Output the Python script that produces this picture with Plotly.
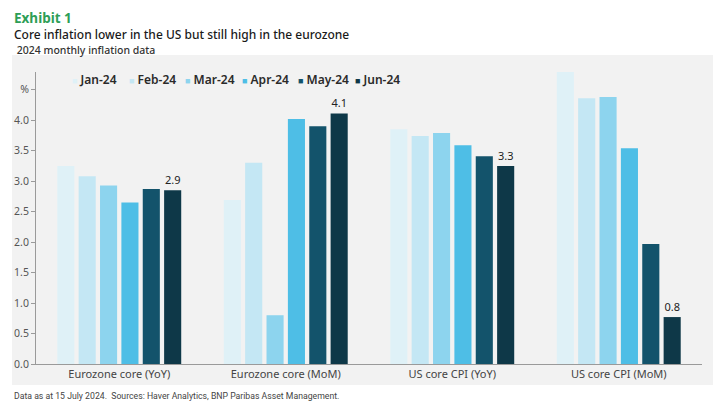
import plotly.graph_objects as go

categories = ['Eurozone core (YoY)', 'Eurozone core (MoM)', 'US core CPI (YoY)', 'US core CPI (MoM)']
months = ['Jan-24', 'Feb-24', 'Mar-24', 'Apr-24', 'May-24', 'Jun-24']

jan = [3.25, 2.69, 3.85, 4.79]
feb = [3.08, 3.30, 3.74, 4.36]
mar = [2.93, 0.80, 3.79, 4.38]
apr = [2.65, 4.02, 3.59, 3.54]
may = [2.87, 3.90, 3.41, 1.97]
jun = [2.85, 4.11, 3.25, 0.77]

jun_labels = ['2.9', '4.1', '3.3', '0.8']

colors = ['#dff1f7', '#c4e7f4', '#8dd4ee', '#4ebee6', '#13536b', '#0e3848']

font_main = 'Noto Sans'

fig = go.Figure()

series = [jan, feb, mar, apr, may, jun]
for i, (m, vals) in enumerate(zip(months, series)):
    is_last = i == len(months) - 1
    fig.add_trace(go.Bar(
        x=categories, y=vals, name=m,
        marker=dict(color=colors[i], line=dict(width=0)),
        text=jun_labels if is_last else None,
        textposition='outside' if is_last else None,
        textfont=dict(size=11, color='#222222', family=font_main),
        cliponaxis=False,
        hoverinfo='x+y+name',
        showlegend=False,
    ))

# legend drawn as a row of labels: small swatch right against the text
for i, m in enumerate(months):
    fig.add_annotation(
        text=f'<span style="color:{colors[i]};font-size:9px">■</span> {m}',
        xref='paper', yref='paper', x=0.051 + i * 0.085, y=0.976,
        xanchor='left', yanchor='middle', showarrow=False,
        font=dict(family=font_main, size=12, color='#2a2a2a', weight=600))

# grey panel behind the plot
fig.add_shape(type='rect', xref='paper', yref='paper',
              x0=-0.036, x1=1.0165, y0=-0.072, y1=1.058,
              fillcolor='#f2f2f2', line=dict(width=0), layer='below')

# title block as one annotation so the three lines keep tight spacing
title_block = (
    '<span style="font-size:13.5px;color:#2e9e57"><b>Exhibit 1</b></span><br>'
    'Core inflation lower in the US but still high in the eurozone<br>'
    '<span style="font-size:10.5px;color:#333333"> 2024 monthly inflation data</span>'
)
fig.add_annotation(text=title_block, xref='paper', yref='paper',
                   x=-0.036, y=1.222, xanchor='left', yanchor='top', align='left',
                   showarrow=False,
                   font=dict(family=font_main, size=12, color='#1a1a1a', weight=500))

fig.add_annotation(text='Data as at 15 July 2024.  Sources: Haver Analytics, BNP Paribas Asset Management.',
                   xref='paper', yref='paper', x=-0.036, y=-0.11, xanchor='left', yanchor='middle',
                   showarrow=False,
                   font=dict(family='Liberation Sans Narrow, Roboto, sans-serif', size=8.7, color='#444444'))

# page body adds an 8px margin, so the figure is 8px smaller each way
fig.update_layout(
    width=717, height=404,
    margin=dict(l=28, r=23, t=64, b=48),
    paper_bgcolor='white', plot_bgcolor='rgba(0,0,0,0)',
    barmode='group', bargap=0.23, bargroupgap=0.2,
    font=dict(family=font_main, color='#444444'),
    xaxis=dict(showline=True, linecolor='#9a9a9a', linewidth=1, ticks='', automargin=False,
               tickfont=dict(size=11, color='#444444'), showgrid=False, zeroline=False),
    yaxis=dict(range=[0, 4.79], showline=True, linecolor='#9a9a9a', linewidth=1, automargin=False,
               ticks='outside', ticklen=4, tickcolor='#9a9a9a',
               tickvals=[0, 0.5, 1, 1.5, 2, 2.5, 3, 3.5, 4, 4.5],
               ticktext=['0.0', '0.5', '1.0', '1.5', '2.0', '2.5', '3.0', '3.5', '4.0', '%'],
               tickfont=dict(size=10.5, color='#555555'), showgrid=False, zeroline=False),
)

fig.write_html('out.html')
